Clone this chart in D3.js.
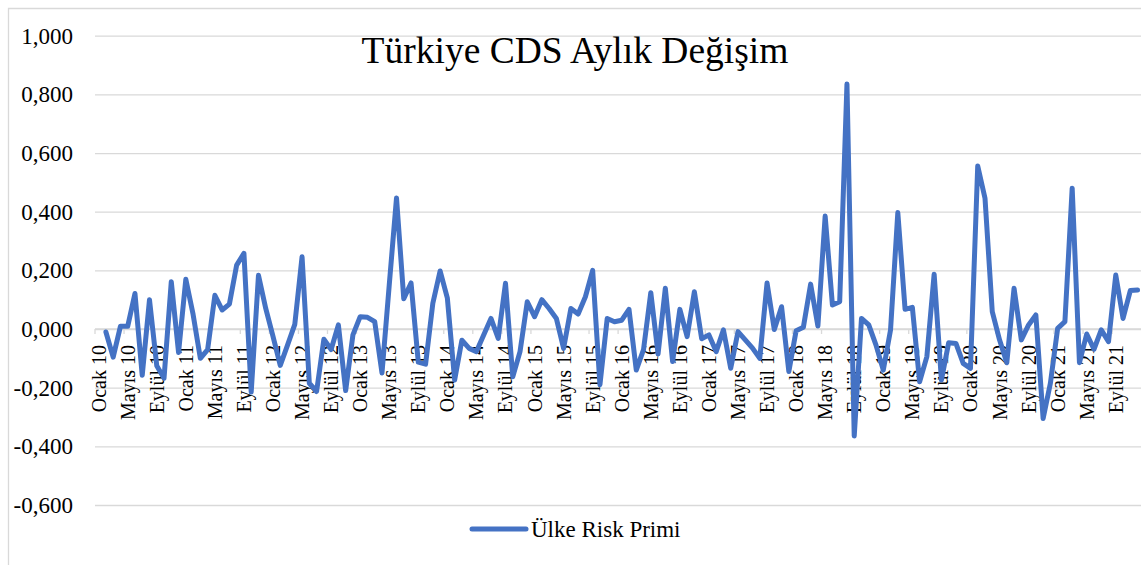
<!DOCTYPE html>
<html>
<head>
<meta charset="utf-8">
<script src="https://cdn.jsdelivr.net/npm/d3@7"></script>
<style>
  html, body { margin: 0; padding: 0; background: #fff; }
  svg { display: block; font-family: "Liberation Serif", "Times New Roman", serif; }
  svg text { font-family: "Liberation Serif", "Times New Roman", serif; fill: #000; }
</style>
</head>
<body>
<svg id="chart" width="1141" height="565"></svg>
<script>
// Month names and years for the category axis
const months = ["Ocak", "Şubat", "Mart", "Nisan", "Mayıs", "Haziran",
                "Temmuz", "Ağustos", "Eylül", "Ekim", "Kasım", "Aralık"];
const years = ["10", "11", "12", "13", "14", "15", "16", "17", "18", "19", "20", "21"];
const categories = years.flatMap(y => months.map(m => m + " " + y));

// Monthly change of the country risk premium (first month has no change)
const values = [
  null, -0.010, -0.096, 0.009, 0.009, 0.121, -0.158, 0.100, -0.125, -0.168, 0.161, -0.080,
  0.170, 0.050, -0.100, -0.070, 0.115, 0.065, 0.085, 0.218, 0.258, -0.215, 0.183, 0.070,
  -0.025, -0.124, -0.055, 0.016, 0.246, -0.185, -0.213, -0.035, -0.070, 0.014, -0.210, -0.020,
  0.042, 0.040, 0.025, -0.150, 0.150, 0.447, 0.103, 0.157, -0.113, -0.120, 0.088, 0.198,
  0.105, -0.174, -0.038, -0.066, -0.077, -0.020, 0.036, -0.032, 0.156, -0.163, -0.077, 0.093,
  0.042, 0.100, 0.070, 0.036, -0.066, 0.070, 0.051, 0.110, 0.200, -0.190, 0.036, 0.025,
  0.030, 0.067, -0.140, -0.070, 0.124, -0.085, 0.139, -0.111, 0.067, -0.026, 0.127, -0.033,
  -0.020, -0.077, -0.003, -0.134, -0.009, -0.037, -0.065, -0.100, 0.157, -0.002, 0.076, -0.145,
  -0.006, 0.006, 0.153, 0.010, 0.385, 0.082, 0.093, 0.835, -0.365, 0.036, 0.014, -0.055,
  -0.140, -0.003, 0.397, 0.067, 0.074, -0.180, -0.094, 0.187, -0.174, -0.047, -0.049, -0.117,
  -0.134, 0.556, 0.446, 0.059, -0.037, -0.115, 0.139, -0.037, 0.014, 0.048, -0.305, -0.185,
  0.002, 0.025, 0.480, -0.115, -0.017, -0.069, -0.003, -0.043, 0.184, 0.036, 0.131, 0.133
];

const yTicks = [-0.6, -0.4, -0.2, 0, 0.2, 0.4, 0.6, 0.8, 1.0];
const title = "Türkiye CDS Aylık Değişim";
const seriesName = "Ülke Risk Primi";

const svg = d3.select("#chart");
const W = 1141, H = 565;
const plot = { left: 95, right: 1141.2, top: 35.7, bottom: 505 };
const lineColor = "#4472C4";
const gridColor = "#d9d9d9";
const serif = '"Liberation Serif", "Times New Roman", serif';

const trFormat = d3.formatLocale({
  decimal: ",", thousands: ".", grouping: [3], currency: ["", " ₺"], minus: "-"
}).format(".3f");

const x = d3.scaleBand().domain(categories).range([plot.left, plot.right]).padding(0);
const y = d3.scaleLinear().domain([-0.6, 1.0]).range([plot.bottom, plot.top]);

// Outer chart frame
svg.append("path")
  .attr("d", `M8.5,${H + 2} V8.5 H${W + 2}`)
  .attr("fill", "none").attr("stroke", gridColor).attr("stroke-width", 1.3);

// Horizontal gridlines
svg.append("g")
  .attr("transform", `translate(${plot.left},0)`)
  .call(d3.axisLeft(y).tickValues(yTicks).tickSize(-(plot.right - plot.left)).tickFormat(""))
  .call(g => g.select(".domain").remove())
  .call(g => g.selectAll("line").attr("stroke", gridColor).attr("stroke-width", 1.3));

// Y axis labels
svg.append("g")
  .attr("transform", "translate(73,0)")
  .call(d3.axisLeft(y).tickValues(yTicks).tickSize(0).tickPadding(0).tickFormat(trFormat))
  .attr("font-family", serif)
  .call(g => g.select(".domain").remove())
  .call(g => g.selectAll("text")
    .style("font-family", serif)
    .style("font-size", "23px").attr("fill", "#000"));

// Category axis along zero, labels every fourth month
const labelCats = categories.filter((d, i) => i % 4 === 0);
const xAxis = svg.append("g").attr("transform", `translate(0,${y(0)})`);
xAxis.append("line")
  .attr("x1", plot.left).attr("x2", plot.right)
  .attr("stroke", gridColor).attr("stroke-width", 1.3);
xAxis.selectAll("line.tick")
  .data(labelCats)
  .join("line").attr("class", "tick")
  .attr("x1", d => x(d)).attr("x2", d => x(d))
  .attr("y1", 0).attr("y2", 5)
  .attr("stroke", gridColor).attr("stroke-width", 1.3);
xAxis.selectAll("text")
  .data(labelCats)
  .join("text")
  .attr("transform", d => `translate(${x(d) + x.bandwidth() / 2},16) rotate(-90)`)
  .attr("text-anchor", "end")
  .attr("dy", "0.35em")
  .style("font-family", serif)
  .style("font-size", "20px")
  .text(d => d);

// Data line
const line = d3.line()
  .defined(d => d.v !== null)
  .x(d => x(d.c) + x.bandwidth() / 2)
  .y(d => y(d.v));
svg.append("path")
  .datum(categories.map((c, i) => ({ c, v: values[i] })))
  .attr("d", line)
  .attr("fill", "none")
  .attr("stroke", lineColor)
  .attr("stroke-width", 5)
  .attr("stroke-linejoin", "round")
  .attr("stroke-linecap", "round");

// Title
svg.append("text")
  .attr("x", 575).attr("y", 63)
  .attr("text-anchor", "middle")
  .style("font-family", serif)
  .style("font-size", "37.5px")
  .text(title);

// Legend
const legend = svg.append("g").attr("transform", "translate(472,529)");
legend.append("line")
  .attr("x1", 0).attr("x2", 54)
  .attr("stroke", lineColor).attr("stroke-width", 5).attr("stroke-linecap", "round");
legend.append("text")
  .attr("x", 59).attr("y", 0).attr("dy", "0.35em")
  .style("font-family", serif)
  .style("font-size", "23px")
  .text(seriesName);
</script>
</body>
</html>
